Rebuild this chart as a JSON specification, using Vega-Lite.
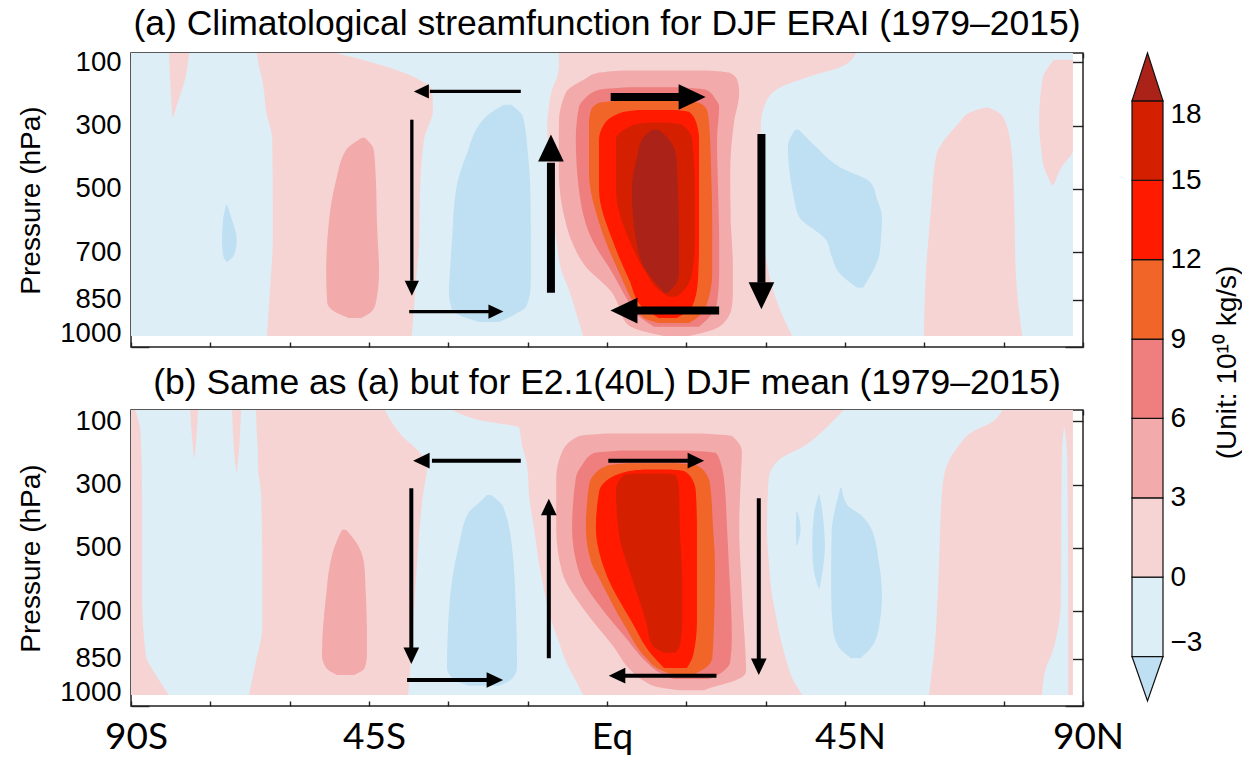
{
"$schema": "https://vega.github.io/schema/vega-lite/v6.json",
"padding": {"left": 17, "top": 6, "right": 0, "bottom": 0},
"background": "white",
"config": {
  "view": {"stroke": "#222", "strokeWidth": 1.5},
  "font": "Liberation Sans",
  "axis": {"labelFont": "Liberation Sans", "titleFont": "Liberation Sans", "labelColor": "#000", "titleColor": "#000", "tickColor": "#222", "tickWidth": 1.4, "domain": false, "grid": false},
  "title": {"font": "Liberation Sans", "fontSize": 35.5, "fontWeight": "normal", "color": "#000", "anchor": "middle", "offset": 6}
},
"datasets": {
"shapes": [
{"panel":"a","lev":"p0","id":"a_s1","p":70,"l":-82.8,"r":-79.0},
{"panel":"a","lev":"p0","id":"a_s1","p":154.5,"l":-82.6,"r":-79.8},
{"panel":"a","lev":"p0","id":"a_s1","p":218,"l":-82.4,"r":-81.0},
{"panel":"a","lev":"p0","id":"a_s1","p":272,"l":-82.2,"r":-82.0},
{"panel":"a","lev":"p0","id":"a_sh","p":70,"l":-66.2,"r":-51.2},
{"panel":"a","lev":"p0","id":"a_sh","p":113,"l":-65.8,"r":-41.8},
{"panel":"a","lev":"p0","id":"a_sh","p":154.5,"l":-65.2,"r":-35.5},
{"panel":"a","lev":"p0","id":"a_sh","p":186,"l":-64.9,"r":-33.1},
{"panel":"a","lev":"p0","id":"a_sh","p":249.5,"l":-64.5,"r":-32.9},
{"panel":"a","lev":"p0","id":"a_sh","p":344,"l":-63.3,"r":-34.6},
{"panel":"a","lev":"p0","id":"a_sh","p":534,"l":-63.2,"r":-35.4},
{"panel":"a","lev":"p0","id":"a_sh","p":661,"l":-63.2,"r":-35.5},
{"panel":"a","lev":"p0","id":"a_sh","p":788,"l":-63.6,"r":-36.1},
{"panel":"a","lev":"p0","id":"a_sh","p":965,"l":-64.3,"r":-36.9},
{"panel":"a","lev":"p0","id":"a_tr","p":70,"l":-9.1,"r":47.1},
{"panel":"a","lev":"p0","id":"a_tr","p":113,"l":-9.1,"r":44.4},
{"panel":"a","lev":"p0","id":"a_tr","p":145,"l":-9.45,"r":38.2},
{"panel":"a","lev":"p0","id":"a_tr","p":186,"l":-10.4,"r":32.0},
{"panel":"a","lev":"p0","id":"a_tr","p":240,"l":-11.0,"r":29.7},
{"panel":"a","lev":"p0","id":"a_tr","p":291,"l":-11.3,"r":29.1},
{"panel":"a","lev":"p0","id":"a_tr","p":449,"l":-11.0,"r":28.9},
{"panel":"a","lev":"p0","id":"a_tr","p":556.5,"l":-10.4,"r":28.9},
{"panel":"a","lev":"p0","id":"a_tr","p":661,"l":-9.6,"r":29.5},
{"panel":"a","lev":"p0","id":"a_tr","p":765,"l":-8.5,"r":30.6},
{"panel":"a","lev":"p0","id":"a_tr","p":819,"l":-7.2,"r":31.4},
{"panel":"a","lev":"p0","id":"a_tr","p":873,"l":-6.2,"r":32.5},
{"panel":"a","lev":"p0","id":"a_tr","p":965,"l":-4.5,"r":35.0},
{"panel":"a","lev":"p0","id":"a_nh","p":243,"l":71.3,"r":72.2},
{"panel":"a","lev":"p0","id":"a_nh","p":259,"l":68.5,"r":74.1},
{"panel":"a","lev":"p0","id":"a_nh","p":291,"l":66.6,"r":75.4},
{"panel":"a","lev":"p0","id":"a_nh","p":398,"l":62.2,"r":76.6},
{"panel":"a","lev":"p0","id":"a_nh","p":556.5,"l":61.3,"r":77.0},
{"panel":"a","lev":"p0","id":"a_nh","p":765,"l":60.3,"r":77.3},
{"panel":"a","lev":"p0","id":"a_nh","p":965,"l":59.9,"r":78.5},
{"panel":"a","lev":"p0","id":"a_np","p":91,"l":84.5,"r":88.1},
{"panel":"a","lev":"p0","id":"a_np","p":154.5,"l":82.3,"r":88.1},
{"panel":"a","lev":"p0","id":"a_np","p":291,"l":81.7,"r":88.1},
{"panel":"a","lev":"p0","id":"a_np","p":376,"l":82.1,"r":88.1},
{"panel":"a","lev":"p0","id":"a_np","p":430,"l":82.6,"r":86.0},
{"panel":"a","lev":"p0","id":"a_np","p":487,"l":84.1,"r":84.5},
{"panel":"a","lev":"p3","id":"a_sh3","p":338,"l":-46.3,"r":-45.8},
{"panel":"a","lev":"p3","id":"a_sh3","p":376,"l":-49.3,"r":-44.1},
{"panel":"a","lev":"p3","id":"a_sh3","p":471,"l":-51.2,"r":-43.7},
{"panel":"a","lev":"p3","id":"a_sh3","p":607,"l":-52.6,"r":-43.5},
{"panel":"a","lev":"p3","id":"a_sh3","p":765,"l":-53.1,"r":-43.1},
{"panel":"a","lev":"p3","id":"a_sh3","p":860,"l":-52.9,"r":-43.7},
{"panel":"a","lev":"p3","id":"a_sh3","p":889,"l":-51.4,"r":-44.6},
{"panel":"a","lev":"p3","id":"a_sh3","p":908,"l":-48.8,"r":-46.5},
{"panel":"a","lev":"p3","id":"a_h3","p":125,"l":3,"r":19},
{"panel":"a","lev":"p3","id":"a_h3","p":132,"l":-1.5,"r":23.1},
{"panel":"a","lev":"p3","id":"a_h3","p":155,"l":-4.4,"r":24.6},
{"panel":"a","lev":"p3","id":"a_h3","p":196,"l":-7.8,"r":25.0},
{"panel":"a","lev":"p3","id":"a_h3","p":291,"l":-9.1,"r":24.0},
{"panel":"a","lev":"p3","id":"a_h3","p":449,"l":-9.1,"r":23.3},
{"panel":"a","lev":"p3","id":"a_h3","p":607,"l":-7.8,"r":23.4},
{"panel":"a","lev":"p3","id":"a_h3","p":661,"l":-6.8,"r":23.6},
{"panel":"a","lev":"p3","id":"a_h3","p":746,"l":-4.0,"r":23.8},
{"panel":"a","lev":"p3","id":"a_h3","p":829,"l":1.0,"r":23.8},
{"panel":"a","lev":"p3","id":"a_h3","p":873,"l":2.3,"r":23.6},
{"panel":"a","lev":"p3","id":"a_h3","p":924,"l":3.6,"r":22.1},
{"panel":"a","lev":"p3","id":"a_h3","p":946,"l":6.0,"r":19.9},
{"panel":"a","lev":"p3","id":"a_h3","p":965,"l":10.8,"r":15.5},
{"panel":"a","lev":"p6","id":"a_h6","p":178,"l":4,"r":14},
{"panel":"a","lev":"p6","id":"a_h6","p":186,"l":-1.5,"r":18.7},
{"panel":"a","lev":"p6","id":"a_h6","p":218,"l":-4.4,"r":20.6},
{"panel":"a","lev":"p6","id":"a_h6","p":240,"l":-5.3,"r":21.2},
{"panel":"a","lev":"p6","id":"a_h6","p":344,"l":-5.9,"r":20.8},
{"panel":"a","lev":"p6","id":"a_h6","p":503,"l":-5.3,"r":21.0},
{"panel":"a","lev":"p6","id":"a_h6","p":661,"l":-2.8,"r":21.2},
{"panel":"a","lev":"p6","id":"a_h6","p":765,"l":1.0,"r":21.2},
{"panel":"a","lev":"p6","id":"a_h6","p":860,"l":4.2,"r":20.8},
{"panel":"a","lev":"p6","id":"a_h6","p":898,"l":5.7,"r":19.7},
{"panel":"a","lev":"p6","id":"a_h6","p":936,"l":8.9,"r":17.4},
{"panel":"a","lev":"p9","id":"a_h9","p":220,"l":4,"r":12},
{"panel":"a","lev":"p9","id":"a_h9","p":227,"l":-1.5,"r":17.4},
{"panel":"a","lev":"p9","id":"a_h9","p":250,"l":-3.0,"r":18.9},
{"panel":"a","lev":"p9","id":"a_h9","p":291,"l":-3.4,"r":19.3},
{"panel":"a","lev":"p9","id":"a_h9","p":449,"l":-3.4,"r":19.7},
{"panel":"a","lev":"p9","id":"a_h9","p":607,"l":-1.5,"r":19.9},
{"panel":"a","lev":"p9","id":"a_h9","p":765,"l":2.3,"r":19.9},
{"panel":"a","lev":"p9","id":"a_h9","p":873,"l":5.5,"r":18.7},
{"panel":"a","lev":"p9","id":"a_h9","p":908,"l":7.0,"r":17.0},
{"panel":"a","lev":"p9","id":"a_h9","p":924,"l":9.8,"r":15.5},
{"panel":"a","lev":"p12","id":"a_h12","p":250,"l":6,"r":13},
{"panel":"a","lev":"p12","id":"a_h12","p":256,"l":3.2,"r":15.5},
{"panel":"a","lev":"p12","id":"a_h12","p":297,"l":-0.6,"r":17.0},
{"panel":"a","lev":"p12","id":"a_h12","p":344,"l":-1.5,"r":17.4},
{"panel":"a","lev":"p12","id":"a_h12","p":503,"l":-1.5,"r":17.4},
{"panel":"a","lev":"p12","id":"a_h12","p":661,"l":1.0,"r":17.4},
{"panel":"a","lev":"p12","id":"a_h12","p":788,"l":4.2,"r":17.2},
{"panel":"a","lev":"p12","id":"a_h12","p":873,"l":6.6,"r":16.1},
{"panel":"a","lev":"p12","id":"a_h12","p":908,"l":9.8,"r":13.2},
{"panel":"a","lev":"p15","id":"a_h15","p":290,"l":8,"r":11},
{"panel":"a","lev":"p15","id":"a_h15","p":297,"l":5.1,"r":14.2},
{"panel":"a","lev":"p15","id":"a_h15","p":344,"l":1.7,"r":16.1},
{"panel":"a","lev":"p15","id":"a_h15","p":503,"l":1.7,"r":16.6},
{"panel":"a","lev":"p15","id":"a_h15","p":661,"l":4.2,"r":16.6},
{"panel":"a","lev":"p15","id":"a_h15","p":765,"l":7.4,"r":16.1},
{"panel":"a","lev":"p15","id":"a_h15","p":819,"l":9.8,"r":14.6},
{"panel":"a","lev":"p15","id":"a_h15","p":841,"l":11.7,"r":13.2},
{"panel":"a","lev":"p18","id":"a_h18","p":313,"l":8.5,"r":9.8},
{"panel":"a","lev":"p18","id":"a_h18","p":344,"l":6.6,"r":11.7},
{"panel":"a","lev":"p18","id":"a_h18","p":398,"l":5.7,"r":13.1},
{"panel":"a","lev":"p18","id":"a_h18","p":503,"l":4.7,"r":13.4},
{"panel":"a","lev":"p18","id":"a_h18","p":661,"l":5.5,"r":13.6},
{"panel":"a","lev":"p18","id":"a_h18","p":765,"l":7.6,"r":13.6},
{"panel":"a","lev":"p18","id":"a_h18","p":803,"l":9.5,"r":12.9},
{"panel":"a","lev":"p18","id":"a_h18","p":829,"l":10.8,"r":11.4},
{"panel":"a","lev":"n3","id":"a_nd","p":550,"l":-72.0,"r":-71.85},
{"panel":"a","lev":"n3","id":"a_nd","p":597.5,"l":-72.6,"r":-70.9},
{"panel":"a","lev":"n3","id":"a_nd","p":661,"l":-72.8,"r":-70.0},
{"panel":"a","lev":"n3","id":"a_nd","p":708,"l":-72.6,"r":-70.5},
{"panel":"a","lev":"n3","id":"a_nd","p":730,"l":-72.0,"r":-71.7},
{"panel":"a","lev":"n3","id":"a_sb","p":233.6,"l":-19.5,"r":-18.15},
{"panel":"a","lev":"n3","id":"a_sb","p":271.6,"l":-22.9,"r":-15.9},
{"panel":"a","lev":"n3","id":"a_sb","p":398,"l":-26.7,"r":-14.9},
{"panel":"a","lev":"n3","id":"a_sb","p":502.6,"l":-28.55,"r":-14.5},
{"panel":"a","lev":"n3","id":"a_sb","p":661,"l":-29.3,"r":-14.4},
{"panel":"a","lev":"n3","id":"a_sb","p":765,"l":-29.7,"r":-14.4},
{"panel":"a","lev":"n3","id":"a_sb","p":819,"l":-29.9,"r":-14.5},
{"panel":"a","lev":"n3","id":"a_sb","p":873,"l":-29.5,"r":-15.3},
{"panel":"a","lev":"n3","id":"a_sb","p":898.5,"l":-28.0,"r":-17.6},
{"panel":"a","lev":"n3","id":"a_sb","p":920.6,"l":-24.2,"r":-20.4},
{"panel":"a","lev":"n3","id":"a_nb","p":312.8,"l":35.55,"r":36.3},
{"panel":"a","lev":"n3","id":"a_nb","p":366.6,"l":34.2,"r":39.5},
{"panel":"a","lev":"n3","id":"a_nb","p":429.9,"l":34.4,"r":43.9},
{"panel":"a","lev":"n3","id":"a_nb","p":480.5,"l":34.8,"r":49.9},
{"panel":"a","lev":"n3","id":"a_nb","p":534.4,"l":35.4,"r":51.1},
{"panel":"a","lev":"n3","id":"a_nb","p":588.2,"l":36.3,"r":52.0},
{"panel":"a","lev":"n3","id":"a_nb","p":661,"l":41.4,"r":51.8},
{"panel":"a","lev":"n3","id":"a_nb","p":714.7,"l":42.5,"r":51.4},
{"panel":"a","lev":"n3","id":"a_nb","p":765.4,"l":43.9,"r":50.1},
{"panel":"a","lev":"n3","id":"a_nb","p":812.9,"l":47.3,"r":48.4},
{"panel":"b","lev":"p0","id":"b_ls","p":64,"l":-90,"r":-89.2},
{"panel":"b","lev":"p0","id":"b_ls","p":134,"l":-90,"r":-88.2},
{"panel":"b","lev":"p0","id":"b_ls","p":333,"l":-90,"r":-87.9},
{"panel":"b","lev":"p0","id":"b_ls","p":649,"l":-90,"r":-87.9},
{"panel":"b","lev":"p0","id":"b_ls","p":839,"l":-90,"r":-87.2},
{"panel":"b","lev":"p0","id":"b_ls","p":902,"l":-90,"r":-85.3},
{"panel":"b","lev":"p0","id":"b_ls","p":965,"l":-90,"r":-82.8},
{"panel":"b","lev":"p0","id":"b_sh","p":64,"l":-66.4,"r":-42.0},
{"panel":"b","lev":"p0","id":"b_sh","p":143,"l":-66.2,"r":-38.9},
{"panel":"b","lev":"p0","id":"b_sh","p":197,"l":-66.0,"r":-35.5},
{"panel":"b","lev":"p0","id":"b_sh","p":238,"l":-66.0,"r":-34.0},
{"panel":"b","lev":"p0","id":"b_sh","p":333,"l":-65.4,"r":-34.8},
{"panel":"b","lev":"p0","id":"b_sh","p":545,"l":-65.2,"r":-35.9},
{"panel":"b","lev":"p0","id":"b_sh","p":753,"l":-65.2,"r":-36.7},
{"panel":"b","lev":"p0","id":"b_sh","p":860,"l":-66.4,"r":-37.1},
{"panel":"b","lev":"p0","id":"b_sh","p":965,"l":-67.7,"r":-37.6},
{"panel":"b","lev":"p0","id":"b_k1","p":64,"l":-78.8,"r":-77.3},
{"panel":"b","lev":"p0","id":"b_k1","p":143,"l":-78.5,"r":-77.6},
{"panel":"b","lev":"p0","id":"b_k1","p":216,"l":-78.1,"r":-78.0},
{"panel":"b","lev":"p0","id":"b_k2","p":64,"l":-70.9,"r":-69.2},
{"panel":"b","lev":"p0","id":"b_k2","p":175,"l":-70.6,"r":-69.5},
{"panel":"b","lev":"p0","id":"b_k2","p":260,"l":-70.1,"r":-70.0},
{"panel":"b","lev":"p0","id":"b_tr","p":64,"l":-29.3,"r":44.8},
{"panel":"b","lev":"p0","id":"b_tr","p":95.6,"l":-24.2,"r":42.9},
{"panel":"b","lev":"p0","id":"b_tr","p":121,"l":-16.6,"r":41.4},
{"panel":"b","lev":"p0","id":"b_tr","p":174.7,"l":-16.1,"r":37.6},
{"panel":"b","lev":"p0","id":"b_tr","p":222,"l":-15.3,"r":32.5},
{"panel":"b","lev":"p0","id":"b_tr","p":279,"l":-14.9,"r":30.6},
{"panel":"b","lev":"p0","id":"b_tr","p":333,"l":-14.75,"r":30.4},
{"panel":"b","lev":"p0","id":"b_tr","p":437,"l":-13.8,"r":30.25},
{"panel":"b","lev":"p0","id":"b_tr","p":544.6,"l":-12.9,"r":30.6},
{"panel":"b","lev":"p0","id":"b_tr","p":649,"l":-11.7,"r":31.2},
{"panel":"b","lev":"p0","id":"b_tr","p":703,"l":-11.0,"r":31.8},
{"panel":"b","lev":"p0","id":"b_tr","p":807,"l":-8.9,"r":33.1},
{"panel":"b","lev":"p0","id":"b_tr","p":860,"l":-7.75,"r":34.0},
{"panel":"b","lev":"p0","id":"b_tr","p":911,"l":-6.2,"r":35.0},
{"panel":"b","lev":"p0","id":"b_tr","p":965,"l":-4.5,"r":36.9},
{"panel":"b","lev":"p0","id":"b_nh","p":64,"l":74.7,"r":88.1},
{"panel":"b","lev":"p0","id":"b_nh","p":102,"l":72.8,"r":88.1},
{"panel":"b","lev":"p0","id":"b_nh","p":133.6,"l":69.0,"r":88.1},
{"panel":"b","lev":"p0","id":"b_nh","p":174.7,"l":66.6,"r":88.1},
{"panel":"b","lev":"p0","id":"b_nh","p":247,"l":64.1,"r":88.1},
{"panel":"b","lev":"p0","id":"b_nh","p":333,"l":63.3,"r":88.1},
{"panel":"b","lev":"p0","id":"b_nh","p":545,"l":62.8,"r":88.1},
{"panel":"b","lev":"p0","id":"b_nh","p":753,"l":62.2,"r":88.1},
{"panel":"b","lev":"p0","id":"b_nh","p":839,"l":61.8,"r":88.1},
{"panel":"b","lev":"p0","id":"b_nh","p":879,"l":61.5,"r":88.1},
{"panel":"b","lev":"p0","id":"b_nh","p":965,"l":60.9,"r":88.1},
{"panel":"b","lev":"lb","id":"b_sl","p":120,"l":86.4,"r":86.5},
{"panel":"b","lev":"lb","id":"b_sl","p":206,"l":86.0,"r":87.0},
{"panel":"b","lev":"lb","id":"b_sl","p":681,"l":85.8,"r":87.2},
{"panel":"b","lev":"lb","id":"b_sl","p":753,"l":85.3,"r":87.2},
{"panel":"b","lev":"lb","id":"b_sl","p":839,"l":84.0,"r":87.2},
{"panel":"b","lev":"lb","id":"b_sl","p":879,"l":83.0,"r":87.2},
{"panel":"b","lev":"lb","id":"b_sl","p":965,"l":82.25,"r":87.2},
{"panel":"b","lev":"p3","id":"b_sh3","p":443,"l":-50.1,"r":-49.35},
{"panel":"b","lev":"p3","id":"b_sh3","p":491,"l":-51.4,"r":-47.1},
{"panel":"b","lev":"p3","id":"b_sh3","p":554,"l":-52.4,"r":-45.9},
{"panel":"b","lev":"p3","id":"b_sh3","p":649,"l":-53.1,"r":-45.6},
{"panel":"b","lev":"p3","id":"b_sh3","p":753,"l":-53.7,"r":-45.4},
{"panel":"b","lev":"p3","id":"b_sh3","p":839,"l":-53.9,"r":-45.4},
{"panel":"b","lev":"p3","id":"b_sh3","p":880,"l":-53.1,"r":-45.8},
{"panel":"b","lev":"p3","id":"b_sh3","p":902,"l":-51.05,"r":-47.8},
{"panel":"b","lev":"p3","id":"b_h3","p":138,"l":0,"r":18},
{"panel":"b","lev":"p3","id":"b_h3","p":146,"l":-5.3,"r":23.6},
{"panel":"b","lev":"p3","id":"b_h3","p":197,"l":-8.5,"r":25.5},
{"panel":"b","lev":"p3","id":"b_h3","p":279,"l":-9.6,"r":25.3},
{"panel":"b","lev":"p3","id":"b_h3","p":437,"l":-9.6,"r":25.0},
{"panel":"b","lev":"p3","id":"b_h3","p":576,"l":-8.5,"r":25.3},
{"panel":"b","lev":"p3","id":"b_h3","p":703,"l":-4.0,"r":25.7},
{"panel":"b","lev":"p3","id":"b_h3","p":807,"l":1.0,"r":26.1},
{"panel":"b","lev":"p3","id":"b_h3","p":890,"l":4.7,"r":26.3},
{"panel":"b","lev":"p3","id":"b_h3","p":921,"l":7.0,"r":24.0},
{"panel":"b","lev":"p3","id":"b_h3","p":941,"l":9.8,"r":19.9},
{"panel":"b","lev":"p3","id":"b_h3","p":950,"l":13.6,"r":18.3},
{"panel":"b","lev":"p6","id":"b_h6","p":192,"l":3,"r":15},
{"panel":"b","lev":"p6","id":"b_h6","p":200,"l":-2.5,"r":20.6},
{"panel":"b","lev":"p6","id":"b_h6","p":238,"l":-4.7,"r":21.6},
{"panel":"b","lev":"p6","id":"b_h6","p":279,"l":-5.9,"r":22.1},
{"panel":"b","lev":"p6","id":"b_h6","p":437,"l":-6.6,"r":22.7},
{"panel":"b","lev":"p6","id":"b_h6","p":576,"l":-5.3,"r":23.1},
{"panel":"b","lev":"p6","id":"b_h6","p":681,"l":-1.5,"r":23.45},
{"panel":"b","lev":"p6","id":"b_h6","p":785,"l":3.6,"r":23.6},
{"panel":"b","lev":"p6","id":"b_h6","p":860,"l":7.4,"r":23.3},
{"panel":"b","lev":"p6","id":"b_h6","p":893,"l":9.8,"r":21.75},
{"panel":"b","lev":"p6","id":"b_h6","p":915,"l":12.7,"r":19.3},
{"panel":"b","lev":"p9","id":"b_h9","p":232,"l":4,"r":13},
{"panel":"b","lev":"p9","id":"b_h9","p":238,"l":0.4,"r":16.8},
{"panel":"b","lev":"p9","id":"b_h9","p":269.5,"l":-2.5,"r":18.9},
{"panel":"b","lev":"p9","id":"b_h9","p":301,"l":-3.4,"r":19.5},
{"panel":"b","lev":"p9","id":"b_h9","p":437,"l":-4.0,"r":20.05},
{"panel":"b","lev":"p9","id":"b_h9","p":545,"l":-3.0,"r":20.4},
{"panel":"b","lev":"p9","id":"b_h9","p":595,"l":-1.5,"r":20.4},
{"panel":"b","lev":"p9","id":"b_h9","p":753,"l":3.6,"r":20.2},
{"panel":"b","lev":"p9","id":"b_h9","p":848,"l":7.4,"r":19.9},
{"panel":"b","lev":"p9","id":"b_h9","p":883,"l":9.8,"r":18.3},
{"panel":"b","lev":"p9","id":"b_h9","p":899.5,"l":12.1,"r":16.45},
{"panel":"b","lev":"p12","id":"b_h12","p":252,"l":7,"r":12},
{"panel":"b","lev":"p12","id":"b_h12","p":257,"l":4.2,"r":14.6},
{"panel":"b","lev":"p12","id":"b_h12","p":295,"l":-0.6,"r":16.45},
{"panel":"b","lev":"p12","id":"b_h12","p":323,"l":-1.5,"r":16.8},
{"panel":"b","lev":"p12","id":"b_h12","p":437,"l":-2.1,"r":17.0},
{"panel":"b","lev":"p12","id":"b_h12","p":576,"l":-0.3,"r":17.0},
{"panel":"b","lev":"p12","id":"b_h12","p":734,"l":4.7,"r":17.0},
{"panel":"b","lev":"p12","id":"b_h12","p":838.5,"l":8.5,"r":16.3},
{"panel":"b","lev":"p12","id":"b_h12","p":880,"l":10.8,"r":15.1},
{"panel":"b","lev":"p15","id":"b_h15","p":265,"l":6,"r":11},
{"panel":"b","lev":"p15","id":"b_h15","p":269.5,"l":3.2,"r":13.05},
{"panel":"b","lev":"p15","id":"b_h15","p":317,"l":1.7,"r":13.6},
{"panel":"b","lev":"p15","id":"b_h15","p":459,"l":2.3,"r":13.8},
{"panel":"b","lev":"p15","id":"b_h15","p":595,"l":4.7,"r":14.2},
{"panel":"b","lev":"p15","id":"b_h15","p":734,"l":7.4,"r":14.2},
{"panel":"b","lev":"p15","id":"b_h15","p":807,"l":8.5,"r":13.8},
{"panel":"b","lev":"p15","id":"b_h15","p":832,"l":10.8,"r":12.9},
{"panel":"b","lev":"n3","id":"b_sb","p":333,"l":-22.7,"r":-21.9},
{"panel":"b","lev":"n3","id":"b_sb","p":364,"l":-24.6,"r":-19.85},
{"panel":"b","lev":"n3","id":"b_sb","p":386.5,"l":-26.1,"r":-19.3},
{"panel":"b","lev":"n3","id":"b_sb","p":491,"l":-28.0,"r":-18.0},
{"panel":"b","lev":"n3","id":"b_sb","p":703,"l":-29.9,"r":-17.2},
{"panel":"b","lev":"n3","id":"b_sb","p":880,"l":-30.25,"r":-17.0},
{"panel":"b","lev":"n3","id":"b_sb","p":917,"l":-28.9,"r":-18.15},
{"panel":"b","lev":"n3","id":"b_sb","p":936,"l":-26.1,"r":-20.4},
{"panel":"b","lev":"n3","id":"b_nb1","p":310.6,"l":44.1,"r":44.4},
{"panel":"b","lev":"n3","id":"b_nb1","p":364,"l":43.3,"r":45.4},
{"panel":"b","lev":"n3","id":"b_nb1","p":396,"l":42.9,"r":48.0},
{"panel":"b","lev":"n3","id":"b_nb1","p":437,"l":42.5,"r":49.9},
{"panel":"b","lev":"n3","id":"b_nb1","p":545,"l":42.4,"r":51.4},
{"panel":"b","lev":"n3","id":"b_nb1","p":649,"l":42.4,"r":52.0},
{"panel":"b","lev":"n3","id":"b_nb1","p":753,"l":42.7,"r":51.4},
{"panel":"b","lev":"n3","id":"b_nb1","p":816,"l":43.9,"r":49.9},
{"panel":"b","lev":"n3","id":"b_nb1","p":848,"l":46.1,"r":48.0},
{"panel":"b","lev":"n3","id":"b_nb2","p":333,"l":40.0,"r":40.2},
{"panel":"b","lev":"n3","id":"b_nb2","p":396,"l":39.1,"r":40.8},
{"panel":"b","lev":"n3","id":"b_nb2","p":491,"l":38.8,"r":41.2},
{"panel":"b","lev":"n3","id":"b_nb2","p":570,"l":39.1,"r":40.8},
{"panel":"b","lev":"n3","id":"b_nb2","p":627,"l":40.0,"r":40.2},
{"panel":"b","lev":"n3","id":"b_nb3","p":386.5,"l":35.8,"r":36.0},
{"panel":"b","lev":"n3","id":"b_nb3","p":437,"l":35.7,"r":36.6},
{"panel":"b","lev":"n3","id":"b_nb3","p":491,"l":35.8,"r":36.0}
],
"arrows": [
{"panel":"a","w":"thin","x1":-16.3,"x2":-33.5,"p1":191.5,"p2":191.5,"hx":-35.1,"hp":191.5,"dir":"left"},
{"panel":"a","w":"thin","x1":-36.9,"x2":-36.9,"p1":281,"p2":790.7,"hx":-36.9,"hp":813.8,"dir":"down"},
{"panel":"a","w":"thin","x1":-37.4,"x2":-22.1,"p1":887.8,"p2":887.8,"hx":-21.0,"hp":887.8,"dir":"right"},
{"panel":"a","w":"thick","x1":-10.6,"x2":-10.6,"p1":828.7,"p2":417.2,"hx":-10.6,"hp":370.7,"dir":"up"},
{"panel":"a","w":"thick","x1":0.7,"x2":14.0,"p1":209.3,"p2":209.3,"hx":16.1,"hp":209.3,"dir":"right"},
{"panel":"a","w":"thick","x1":21.2,"x2":5.3,"p1":884.7,"p2":884.7,"hx":3.2,"hp":884.7,"dir":"left"},
{"panel":"a","w":"thick","x1":29.2,"x2":29.2,"p1":326.4,"p2":797,"hx":29.2,"hp":837.6,"dir":"down"},
{"panel":"b","w":"med","x1":-16.3,"x2":-33.1,"p1":224.3,"p2":224.3,"hx":-35.1,"hp":224.3,"dir":"left"},
{"panel":"b","w":"med","x1":-37.0,"x2":-37.0,"p1":311.6,"p2":819.7,"hx":-37.0,"hp":841,"dir":"down"},
{"panel":"b","w":"med","x1":-37.8,"x2":-22.5,"p1":917.7,"p2":917.7,"hx":-21.2,"hp":917.7,"dir":"right"},
{"panel":"b","w":"med","x1":-11.0,"x2":-11.0,"p1":849.1,"p2":392.8,"hx":-11.0,"hp":370.7,"dir":"up"},
{"panel":"b","w":"med","x1":0.25,"x2":15.3,"p1":224.3,"p2":224.3,"hx":16.8,"hp":224.3,"dir":"right"},
{"panel":"b","w":"med","x1":20.7,"x2":3.2,"p1":904.1,"p2":904.1,"hx":1.9,"hp":904.1,"dir":"left"},
{"panel":"b","w":"med","x1":28.7,"x2":28.7,"p1":343.2,"p2":851.3,"hx":28.7,"hp":875.7,"dir":"down"}
],
"cbar": [
{"lo":-3,"hi":0,"band":"lb"},
{"lo":0,"hi":3,"band":"p0"},
{"lo":3,"hi":6,"band":"p3"},
{"lo":6,"hi":9,"band":"p6"},
{"lo":9,"hi":12,"band":"p9"},
{"lo":12,"hi":15,"band":"p12"},
{"lo":15,"hi":18,"band":"p15"}
],
"tri": [
{"end":"top","band":"p18","t":0,"b":18,"e":18},
{"end":"top","band":"p18","t":0.5,"b":18,"e":19.81},
{"end":"top","band":"p18","t":1,"b":18,"e":18},
{"end":"bottom","band":"n3","t":0,"b":-3,"e":-3},
{"end":"bottom","band":"n3","t":0.5,"b":-3,"e":-4.68},
{"end":"bottom","band":"n3","t":1,"b":-3,"e":-3}
]
},
"hconcat": [
{
"vconcat": [
{
"title": {"text": "(a) Climatological streamfunction for DJF ERAI (1979–2015)"},
"width": 952, "height": 294,
"resolve": {"axis": {"x": "independent", "y": "independent"}},
"layer": [
{"data": {"values": [{"x1": -90, "x2": 88.1, "p1": 70, "p2": 965}]},
 "mark": {"type": "rect", "color": "#deeef6"},
 "encoding": {
  "x": {"field": "x1", "type": "quantitative", "scale": {"domain": [-90, 90], "nice": false, "zero": false},
        "axis": {"orient": "bottom", "values": [-90,-75,-60,-45,-30,-15,0,15,30,45,60,75,90], "tickSize": -5, "labels": false, "title": null}},
  "x2": {"field": "x2"},
  "y": {"field": "p1", "type": "quantitative", "scale": {"domain": [70, 1000], "reverse": true, "nice": false, "zero": false},
        "axis": {"orient": "left", "values": [100,300,500,700,850,1000], "format": "d", "tickSize": -18, "labelFontSize": 27.5, "labelPadding": 28, "labelOverlap": false,
                 "labelBaseline": {"condition": {"test": "datum.value == 1000", "value": "bottom"}, "value": "middle"},
                 "title": "Pressure (hPa)", "titleFontSize": 28, "titleFontWeight": "normal", "titlePadding": 14}},
  "y2": {"field": "p2"}}},
{"data": {"name": "shapes"}, "transform": [{"filter": "datum.panel=='a' && datum.lev=='p0'"}],
 "mark": {"type": "area", "orient": "horizontal", "interpolate": "monotone", "color": "#f7d4d4"},
 "encoding": {"y": {"field": "p", "type": "quantitative", "scale": {"domain": [70, 1000], "reverse": true, "nice": false, "zero": false}, "axis": null},
  "x": {"field": "l", "type": "quantitative", "stack": null, "scale": {"domain": [-90, 90], "nice": false, "zero": false}, "axis": null}, "x2": {"field": "r"}, "detail": {"field": "id", "type": "nominal"}}},
{"data": {"name": "shapes"}, "transform": [{"filter": "datum.panel=='a' && datum.lev=='n3'"}],
 "mark": {"type": "area", "orient": "horizontal", "interpolate": "monotone", "color": "#bfe0f2"},
 "encoding": {"y": {"field": "p", "type": "quantitative", "scale": {"domain": [70, 1000], "reverse": true, "nice": false, "zero": false}, "axis": null},
  "x": {"field": "l", "type": "quantitative", "stack": null, "scale": {"domain": [-90, 90], "nice": false, "zero": false}, "axis": null}, "x2": {"field": "r"}, "detail": {"field": "id", "type": "nominal"}}},
{"data": {"name": "shapes"}, "transform": [{"filter": "datum.panel=='a' && datum.lev=='p3'"}],
 "mark": {"type": "area", "orient": "horizontal", "interpolate": "monotone", "color": "#f2aaaa"},
 "encoding": {"y": {"field": "p", "type": "quantitative", "scale": {"domain": [70, 1000], "reverse": true, "nice": false, "zero": false}, "axis": null},
  "x": {"field": "l", "type": "quantitative", "stack": null, "scale": {"domain": [-90, 90], "nice": false, "zero": false}, "axis": null}, "x2": {"field": "r"}, "detail": {"field": "id", "type": "nominal"}}},
{"data": {"name": "shapes"}, "transform": [{"filter": "datum.panel=='a' && datum.lev=='p6'"}],
 "mark": {"type": "area", "orient": "horizontal", "interpolate": "monotone", "color": "#ee7f7e"},
 "encoding": {"y": {"field": "p", "type": "quantitative", "scale": {"domain": [70, 1000], "reverse": true, "nice": false, "zero": false}, "axis": null},
  "x": {"field": "l", "type": "quantitative", "stack": null, "scale": {"domain": [-90, 90], "nice": false, "zero": false}, "axis": null}, "x2": {"field": "r"}, "detail": {"field": "id", "type": "nominal"}}},
{"data": {"name": "shapes"}, "transform": [{"filter": "datum.panel=='a' && datum.lev=='p9'"}],
 "mark": {"type": "area", "orient": "horizontal", "interpolate": "monotone", "color": "#f26528"},
 "encoding": {"y": {"field": "p", "type": "quantitative", "scale": {"domain": [70, 1000], "reverse": true, "nice": false, "zero": false}, "axis": null},
  "x": {"field": "l", "type": "quantitative", "stack": null, "scale": {"domain": [-90, 90], "nice": false, "zero": false}, "axis": null}, "x2": {"field": "r"}, "detail": {"field": "id", "type": "nominal"}}},
{"data": {"name": "shapes"}, "transform": [{"filter": "datum.panel=='a' && datum.lev=='p12'"}],
 "mark": {"type": "area", "orient": "horizontal", "interpolate": "monotone", "color": "#ff1a00"},
 "encoding": {"y": {"field": "p", "type": "quantitative", "scale": {"domain": [70, 1000], "reverse": true, "nice": false, "zero": false}, "axis": null},
  "x": {"field": "l", "type": "quantitative", "stack": null, "scale": {"domain": [-90, 90], "nice": false, "zero": false}, "axis": null}, "x2": {"field": "r"}, "detail": {"field": "id", "type": "nominal"}}},
{"data": {"name": "shapes"}, "transform": [{"filter": "datum.panel=='a' && datum.lev=='p15'"}],
 "mark": {"type": "area", "orient": "horizontal", "interpolate": "monotone", "color": "#d42000"},
 "encoding": {"y": {"field": "p", "type": "quantitative", "scale": {"domain": [70, 1000], "reverse": true, "nice": false, "zero": false}, "axis": null},
  "x": {"field": "l", "type": "quantitative", "stack": null, "scale": {"domain": [-90, 90], "nice": false, "zero": false}, "axis": null}, "x2": {"field": "r"}, "detail": {"field": "id", "type": "nominal"}}},
{"data": {"name": "shapes"}, "transform": [{"filter": "datum.panel=='a' && datum.lev=='p18'"}],
 "mark": {"type": "area", "orient": "horizontal", "interpolate": "monotone", "color": "#ab2218"},
 "encoding": {"y": {"field": "p", "type": "quantitative", "scale": {"domain": [70, 1000], "reverse": true, "nice": false, "zero": false}, "axis": null},
  "x": {"field": "l", "type": "quantitative", "stack": null, "scale": {"domain": [-90, 90], "nice": false, "zero": false}, "axis": null}, "x2": {"field": "r"}, "detail": {"field": "id", "type": "nominal"}}},
{"data": {"name": "arrows"}, "transform": [{"filter": "datum.panel=='a' && datum.w=='thin'"}],
 "mark": {"type": "rule", "color": "#000", "strokeWidth": 3.3},
 "encoding": {
  "x": {"field": "x1", "type": "quantitative", "scale": {"domain": [-90, 90], "nice": false, "zero": false},
        "axis": {"orient": "top", "values": [-90,-75,-60,-45,-30,-15,0,15,30,45,60,75,90], "tickSize": -5, "labels": false, "title": null}},
  "x2": {"field": "x2"},
  "y": {"field": "p1", "type": "quantitative", "scale": {"domain": [70, 1000], "reverse": true, "nice": false, "zero": false},
        "axis": {"orient": "right", "values": [100,300,500,700,850,1000], "tickSize": -18, "labels": false, "title": null}},
  "y2": {"field": "p2"}}},
{"data": {"name": "arrows"}, "transform": [{"filter": "datum.panel=='a' && datum.w=='thick'"}],
 "mark": {"type": "rule", "color": "#000", "strokeWidth": 8},
 "encoding": {
  "x": {"field": "x1", "type": "quantitative", "scale": {"domain": [-90, 90], "nice": false, "zero": false}, "axis": null},
  "x2": {"field": "x2"},
  "y": {"field": "p1", "type": "quantitative", "scale": {"domain": [70, 1000], "reverse": true, "nice": false, "zero": false}, "axis": null},
  "y2": {"field": "p2"}}},
{"data": {"name": "arrows"}, "transform": [{"filter": "datum.panel=='a' && datum.w=='thin'"}],
 "mark": {"type": "point", "filled": true, "color": "#000", "opacity": 1, "strokeWidth": 0, "size": 225},
 "encoding": {
  "x": {"field": "hx", "type": "quantitative", "scale": {"domain": [-90, 90], "nice": false, "zero": false}, "axis": null},
  "y": {"field": "hp", "type": "quantitative", "scale": {"domain": [70, 1000], "reverse": true, "nice": false, "zero": false}, "axis": null},
  "shape": {"field": "dir", "type": "nominal", "scale": {"domain": ["up","down","left","right"], "range": ["M-0.95,1L0,-1L0.95,1Z","M-0.95,-1L0,1L0.95,-1Z","M1,-0.95L-1,0L1,0.95Z","M-1,-0.95L1,0L-1,0.95Z"]}, "legend": null}}},
{"data": {"name": "arrows"}, "transform": [{"filter": "datum.panel=='a' && datum.w=='thick'"}],
 "mark": {"type": "point", "filled": true, "color": "#000", "opacity": 1, "strokeWidth": 0, "size": 729},
 "encoding": {
  "x": {"field": "hx", "type": "quantitative", "scale": {"domain": [-90, 90], "nice": false, "zero": false}, "axis": null},
  "y": {"field": "hp", "type": "quantitative", "scale": {"domain": [70, 1000], "reverse": true, "nice": false, "zero": false}, "axis": null},
  "shape": {"field": "dir", "type": "nominal", "scale": {"domain": ["up","down","left","right"], "range": ["M-0.95,1L0,-1L0.95,1Z","M-0.95,-1L0,1L0.95,-1Z","M1,-0.95L-1,0L1,0.95Z","M-1,-0.95L1,0L-1,0.95Z"]}, "legend": null}}}
]
},
{
"title": {"text": "(b) Same as (a) but for E2.1(40L) DJF mean (1979–2015)"},
"width": 952, "height": 296,
"resolve": {"axis": {"x": "independent", "y": "independent"}},
"layer": [
{"data": {"values": [{"x1": -90, "x2": 88.1, "p1": 64, "p2": 965}]},
 "mark": {"type": "rect", "color": "#deeef6"},
 "encoding": {
  "x": {"field": "x1", "type": "quantitative", "scale": {"domain": [-90, 90], "nice": false, "zero": false},
        "axis": {"orient": "bottom", "values": [-90,-75,-60,-45,-30,-15,0,15,30,45,60,75,90], "tickSize": -5, "labels": true, "labelFlush": false, "labelOverlap": false,
                 "labelExpr": "datum.value == 0 ? 'Eq' : (datum.value % 45 == 0 ? abs(datum.value) + (datum.value < 0 ? 'S' : 'N') : '')",
                 "labelFont": "Lato", "labelFontSize": 37, "labelPadding": 18, "labelOffset": 5, "title": null}},
  "x2": {"field": "x2"},
  "y": {"field": "p1", "type": "quantitative", "scale": {"domain": [64, 1000], "reverse": true, "nice": false, "zero": false},
        "axis": {"orient": "left", "values": [100,300,500,700,850,1000], "format": "d", "tickSize": -18, "labelFontSize": 27.5, "labelPadding": 28, "labelOverlap": false,
                 "labelBaseline": {"condition": {"test": "datum.value == 1000", "value": "bottom"}, "value": "middle"},
                 "title": "Pressure (hPa)", "titleFontSize": 28, "titleFontWeight": "normal", "titlePadding": 14}},
  "y2": {"field": "p2"}}},
{"data": {"name": "shapes"}, "transform": [{"filter": "datum.panel=='b' && datum.lev=='p0'"}],
 "mark": {"type": "area", "orient": "horizontal", "interpolate": "monotone", "color": "#f7d4d4"},
 "encoding": {"y": {"field": "p", "type": "quantitative", "scale": {"domain": [64, 1000], "reverse": true, "nice": false, "zero": false}, "axis": null},
  "x": {"field": "l", "type": "quantitative", "stack": null, "scale": {"domain": [-90, 90], "nice": false, "zero": false}, "axis": null}, "x2": {"field": "r"}, "detail": {"field": "id", "type": "nominal"}}},
{"data": {"name": "shapes"}, "transform": [{"filter": "datum.panel=='b' && datum.lev=='lb'"}],
 "mark": {"type": "area", "orient": "horizontal", "interpolate": "monotone", "color": "#deeef6"},
 "encoding": {"y": {"field": "p", "type": "quantitative", "scale": {"domain": [64, 1000], "reverse": true, "nice": false, "zero": false}, "axis": null},
  "x": {"field": "l", "type": "quantitative", "stack": null, "scale": {"domain": [-90, 90], "nice": false, "zero": false}, "axis": null}, "x2": {"field": "r"}, "detail": {"field": "id", "type": "nominal"}}},
{"data": {"name": "shapes"}, "transform": [{"filter": "datum.panel=='b' && datum.lev=='n3'"}],
 "mark": {"type": "area", "orient": "horizontal", "interpolate": "monotone", "color": "#bfe0f2"},
 "encoding": {"y": {"field": "p", "type": "quantitative", "scale": {"domain": [64, 1000], "reverse": true, "nice": false, "zero": false}, "axis": null},
  "x": {"field": "l", "type": "quantitative", "stack": null, "scale": {"domain": [-90, 90], "nice": false, "zero": false}, "axis": null}, "x2": {"field": "r"}, "detail": {"field": "id", "type": "nominal"}}},
{"data": {"name": "shapes"}, "transform": [{"filter": "datum.panel=='b' && datum.lev=='p3'"}],
 "mark": {"type": "area", "orient": "horizontal", "interpolate": "monotone", "color": "#f2aaaa"},
 "encoding": {"y": {"field": "p", "type": "quantitative", "scale": {"domain": [64, 1000], "reverse": true, "nice": false, "zero": false}, "axis": null},
  "x": {"field": "l", "type": "quantitative", "stack": null, "scale": {"domain": [-90, 90], "nice": false, "zero": false}, "axis": null}, "x2": {"field": "r"}, "detail": {"field": "id", "type": "nominal"}}},
{"data": {"name": "shapes"}, "transform": [{"filter": "datum.panel=='b' && datum.lev=='p6'"}],
 "mark": {"type": "area", "orient": "horizontal", "interpolate": "monotone", "color": "#ee7f7e"},
 "encoding": {"y": {"field": "p", "type": "quantitative", "scale": {"domain": [64, 1000], "reverse": true, "nice": false, "zero": false}, "axis": null},
  "x": {"field": "l", "type": "quantitative", "stack": null, "scale": {"domain": [-90, 90], "nice": false, "zero": false}, "axis": null}, "x2": {"field": "r"}, "detail": {"field": "id", "type": "nominal"}}},
{"data": {"name": "shapes"}, "transform": [{"filter": "datum.panel=='b' && datum.lev=='p9'"}],
 "mark": {"type": "area", "orient": "horizontal", "interpolate": "monotone", "color": "#f26528"},
 "encoding": {"y": {"field": "p", "type": "quantitative", "scale": {"domain": [64, 1000], "reverse": true, "nice": false, "zero": false}, "axis": null},
  "x": {"field": "l", "type": "quantitative", "stack": null, "scale": {"domain": [-90, 90], "nice": false, "zero": false}, "axis": null}, "x2": {"field": "r"}, "detail": {"field": "id", "type": "nominal"}}},
{"data": {"name": "shapes"}, "transform": [{"filter": "datum.panel=='b' && datum.lev=='p12'"}],
 "mark": {"type": "area", "orient": "horizontal", "interpolate": "monotone", "color": "#ff1a00"},
 "encoding": {"y": {"field": "p", "type": "quantitative", "scale": {"domain": [64, 1000], "reverse": true, "nice": false, "zero": false}, "axis": null},
  "x": {"field": "l", "type": "quantitative", "stack": null, "scale": {"domain": [-90, 90], "nice": false, "zero": false}, "axis": null}, "x2": {"field": "r"}, "detail": {"field": "id", "type": "nominal"}}},
{"data": {"name": "shapes"}, "transform": [{"filter": "datum.panel=='b' && datum.lev=='p15'"}],
 "mark": {"type": "area", "orient": "horizontal", "interpolate": "monotone", "color": "#d42000"},
 "encoding": {"y": {"field": "p", "type": "quantitative", "scale": {"domain": [64, 1000], "reverse": true, "nice": false, "zero": false}, "axis": null},
  "x": {"field": "l", "type": "quantitative", "stack": null, "scale": {"domain": [-90, 90], "nice": false, "zero": false}, "axis": null}, "x2": {"field": "r"}, "detail": {"field": "id", "type": "nominal"}}},
{"data": {"name": "arrows"}, "transform": [{"filter": "datum.panel=='b'"}],
 "mark": {"type": "rule", "color": "#000", "strokeWidth": 4},
 "encoding": {
  "x": {"field": "x1", "type": "quantitative", "scale": {"domain": [-90, 90], "nice": false, "zero": false},
        "axis": {"orient": "top", "values": [-90,-75,-60,-45,-30,-15,0,15,30,45,60,75,90], "tickSize": -5, "labels": false, "title": null}},
  "x2": {"field": "x2"},
  "y": {"field": "p1", "type": "quantitative", "scale": {"domain": [64, 1000], "reverse": true, "nice": false, "zero": false},
        "axis": {"orient": "right", "values": [100,300,500,700,850,1000], "tickSize": -18, "labels": false, "title": null}},
  "y2": {"field": "p2"}}},
{"data": {"name": "arrows"}, "transform": [{"filter": "datum.panel=='b'"}],
 "mark": {"type": "point", "filled": true, "color": "#000", "opacity": 1, "strokeWidth": 0, "size": 272},
 "encoding": {
  "x": {"field": "hx", "type": "quantitative", "scale": {"domain": [-90, 90], "nice": false, "zero": false}, "axis": null},
  "y": {"field": "hp", "type": "quantitative", "scale": {"domain": [64, 1000], "reverse": true, "nice": false, "zero": false}, "axis": null},
  "shape": {"field": "dir", "type": "nominal", "scale": {"domain": ["up","down","left","right"], "range": ["M-0.95,1L0,-1L0.95,1Z","M-0.95,-1L0,1L0.95,-1Z","M1,-0.95L-1,0L1,0.95Z","M-1,-0.95L1,0L-1,0.95Z"]}, "legend": null}}}
]
}
],
"spacing": 16
},
{
"title": {"text": " "},
"width": 31, "height": 648,
"view": {"stroke": null},
"resolve": {"axis": {"x": "independent", "y": "independent"}},
"layer": [
{"data": {"name": "cbar"},
 "mark": {"type": "rect", "stroke": "#111", "strokeWidth": 1.2},
 "encoding": {
  "y": {"field": "lo", "type": "quantitative", "scale": {"domain": [-4.68, 19.81], "nice": false, "zero": false},
        "axis": {"orient": "right", "values": [-3,0,3,6,9,12,15,18], "ticks": false, "labelFontSize": 28, "labelPadding": 7, "labelOverlap": false,
                 "labelBaseline": {"condition": [{"test": "datum.value == 18", "value": "top"}, {"test": "datum.value == -3", "value": "bottom"}], "value": "middle"},
                 "title": "(Unit: 10¹⁰ kg/s)", "titleAngle": 270, "titleBaseline": "top", "titleFontSize": 28, "titleFontWeight": "normal", "titlePadding": 12, "titleY": 309}},
  "y2": {"field": "hi"},
  "color": {"field": "band", "type": "nominal", "scale": {"domain": ["n3","lb","p0","p3","p6","p9","p12","p15","p18"], "range": ["#bfe0f2","#deeef6","#f7d4d4","#f2aaaa","#ee7f7e","#f26528","#ff1a00","#d42000","#ab2218"]}, "legend": null}}},
{"data": {"name": "tri"},
 "mark": {"type": "area", "interpolate": "linear", "stroke": "#111", "strokeWidth": 1.2, "opacity": 1},
 "encoding": {
  "x": {"field": "t", "type": "quantitative", "scale": {"domain": [0, 1], "nice": false, "zero": false}, "axis": null},
  "y": {"field": "b", "type": "quantitative", "stack": null, "scale": {"domain": [-4.68, 19.81], "nice": false, "zero": false}, "axis": null},
  "y2": {"field": "e"},
  "detail": {"field": "end", "type": "nominal"},
  "color": {"field": "band", "type": "nominal", "scale": {"domain": ["n3","lb","p0","p3","p6","p9","p12","p15","p18"], "range": ["#bfe0f2","#deeef6","#f7d4d4","#f2aaaa","#ee7f7e","#f26528","#ff1a00","#d42000","#ab2218"]}, "legend": null}}}
]
}
],
"spacing": 4
}
